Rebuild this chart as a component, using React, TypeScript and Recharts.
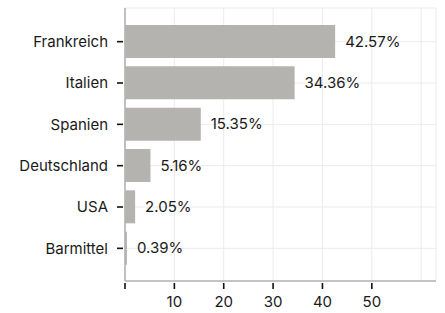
import React from "react";
import {
  BarChart, Bar, XAxis, YAxis, CartesianGrid, LabelList,
} from "recharts";

const countries = ["Frankreich", "Italien", "Spanien", "Deutschland", "USA", "Barmittel"];
const shares = [42.57, 34.36, 15.35, 5.16, 2.05, 0.39];
const xTicks = [0, 10, 20, 30, 40, 50, 60];
const xLabelled = [10, 20, 30, 40, 50];
const xMarked = [0, 10, 20, 30, 40, 50];

const data = countries.map((name, i) => ({ name, value: shares[i] }));

const FONT = "Inter, 'Noto Sans', sans-serif";
const TEXT = "#1a1a1a";

function YTick(props: any) {
  const { x, y, payload } = props;
  return (
    <g>
      <line x1={x - 8} x2={x - 2} y1={y} y2={y} stroke="#111" strokeWidth={1.6} />
      <text x={x - 17} y={y} dy="0.35em" textAnchor="end" fontSize={15} fontFamily={FONT} fill={TEXT}>
        {payload.value}
      </text>
    </g>
  );
}

function XTick(props: any) {
  const { x, y, payload } = props;
  const v = payload.value;
  return (
    <g>
      {xMarked.includes(v) && (
        <line x1={x} x2={x} y1={y + 2} y2={y + 8} stroke="#111" strokeWidth={1.6} />
      )}
      {xLabelled.includes(v) && (
        <text x={x} y={y + 26} textAnchor="middle" fontSize={15} fontFamily={FONT} fill={TEXT}>
          {v}
        </text>
      )}
    </g>
  );
}

export default function App() {
  return (
    <div style={{ position: "absolute", left: 0, top: 0, width: 445, height: 313, background: "#fff" }}>
      <BarChart
        width={445}
        height={313}
        data={data}
        layout="vertical"
        margin={{ top: 8, right: 9, left: 0, bottom: 0 }}
      >
        <CartesianGrid stroke="#ebebeb" strokeWidth={1} />
        <XAxis
          type="number"
          domain={[0, 63]}
          ticks={xTicks}
          height={32}
          tickSize={0}
          tickMargin={0}
          tickLine={false}
          tick={<XTick />}
          axisLine={{ stroke: "#b3b3b3", strokeWidth: 1.6 }}
          allowDataOverflow
        />
        <YAxis
          type="category"
          dataKey="name"
          width={125}
          padding={{ top: 13, bottom: 12 }}
          tickSize={0}
          tickMargin={0}
          tickLine={false}
          tick={<YTick />}
          axisLine={{ stroke: "#b3b3b3", strokeWidth: 1.6 }}
        />
        <Bar dataKey="value" fill="#b4b3af" barSize={33} isAnimationActive={false}>
          <LabelList
            dataKey="value"
            position="right"
            offset={10}
            formatter={(v: any) => `${v}%`}
            style={{ fontSize: 15, fontFamily: FONT, fill: TEXT }}
          />
        </Bar>
      </BarChart>
    </div>
  );
}
